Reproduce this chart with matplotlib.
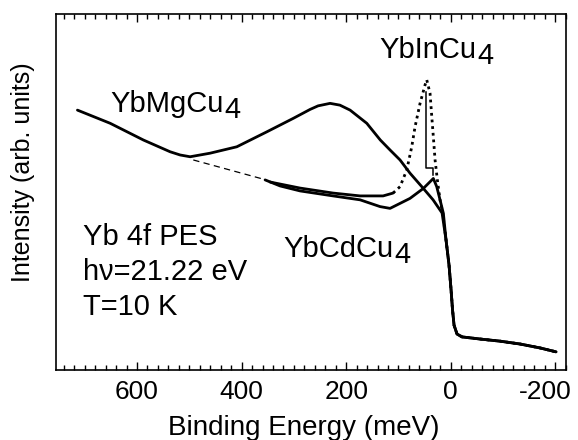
import numpy as np
import matplotlib
matplotlib.use("Agg")
import matplotlib.pyplot as plt
from matplotlib.ticker import MultipleLocator
from matplotlib.transforms import ScaledTranslation

plt.rcParams["font.family"] = ["Liberation Sans", "DejaVu Sans"]
plt.rcParams["axes.unicode_minus"] = False

# Yb 4f photoemission spectra, binding energy in meV, intensity in arb. units
# common Fermi edge / region above E_F shared by all three samples
edge_energy = [9.0, 3.3, -0.6, -3.4, -6.3, -12.0, -21.6, -56.0, -94.3, -132.5, -170.7, -201.3]
edge_intensity = [0.365, 0.295, 0.225, 0.169, 0.126, 0.101, 0.093, 0.087, 0.081, 0.073, 0.062, 0.051]

mg_energy = [714.0, 651.4, 587.8, 536.7, 517.6, 498.5, 460.3, 409.2, 351.8, 301.0, 269.0,
             253.7, 230.8, 212.0, 192.5, 160.6, 134.7, 116.1, 97.0, 78.0, 53.0, 33.8, 16.6]
mg_intensity = [0.730, 0.693, 0.646, 0.613, 0.604, 0.599, 0.609, 0.627, 0.669, 0.707, 0.732,
                0.742, 0.749, 0.744, 0.730, 0.693, 0.646, 0.618, 0.590, 0.553, 0.511, 0.478, 0.441]

cd_energy = [355.1, 326.4, 288.1, 225.0, 173.4, 135.2, 116.1, 97.0, 78.0, 52.4,
             33.3, 26.8, 20.5, 14.1]
cd_intensity = [0.534, 0.517, 0.503, 0.489, 0.478, 0.459, 0.454, 0.468, 0.482, 0.510,
                0.538, 0.515, 0.478, 0.440]

in_energy = [345.5, 288.1, 225.0, 173.4, 129.4, 110.3, 97.0, 84.1, 74.6, 68.3,
             58.7, 49.1, 45.9, 39.6, 36.3, 33.3, 30.0, 25.6, 20.5, 15.3]
in_intensity = [0.528, 0.511, 0.497, 0.489, 0.489, 0.497, 0.515, 0.562, 0.627, 0.683,
                0.749, 0.801, 0.815, 0.777, 0.712, 0.655, 0.590, 0.534, 0.478, 0.440]

# extrapolated background under YbCdCu4
bg_energy = [492.4, 358.3]
bg_intensity = [0.590, 0.536]

# peak shift marker between YbInCu4 and YbCdCu4
shift_energy = [47.8, 47.8, 33.3, 33.3]
shift_intensity = [0.782, 0.568, 0.568, 0.548]

fig = plt.figure(figsize=(5.78, 4.4), dpi=100)
ax = fig.add_axes([56 / 578, 1 - 370 / 440, 510.3 / 578, 356 / 440])

line_kw = dict(color="black", solid_joinstyle="round", solid_capstyle="round")
ax.plot(mg_energy + edge_energy, mg_intensity + edge_intensity, lw=2.0, **line_kw)
ax.plot(cd_energy + edge_energy, cd_intensity + edge_intensity, lw=2.0, **line_kw)
# YbInCu4: dense points in the flat part, sparse dots across the steep Kondo peak
ax.plot(in_energy[:6], in_intensity[:6], lw=2.0, **line_kw)
ax.plot(in_energy[5:] + edge_energy, in_intensity[5:] + edge_intensity, color="black",
        lw=2.0, linestyle=(0, (1, 1.4)))
ax.plot(bg_energy, bg_intensity, color="black", lw=0.9, linestyle=(0, (5, 3.5)))
ax.plot(shift_energy, shift_intensity, color="black", lw=1.1)

ax.set_xlim(755, -221)
ax.set_ylim(0, 1)
ax.set_yticks([])
ax.set_xticks([600, 400, 200, 0, -200])
ax.xaxis.set_minor_locator(MultipleLocator(20))
ax.tick_params(axis="x", which="both", direction="in", top=True, bottom=True,
               width=1.0, labelsize=19, pad=7)
ax.tick_params(axis="x", which="major", length=6)
ax.tick_params(axis="x", which="minor", length=3.5)
for s in ax.spines.values():
    s.set_linewidth(1.2)

# nudge the last label so it stays inside the figure
last = ax.get_xticklabels()[-1]
last.set_transform(last.get_transform() + ScaledTranslation(-7 / 72, 0, fig.dpi_scale_trans))

ax.set_xlabel("Binding Energy (meV)", fontsize=20, va="baseline")
ax.xaxis.set_label_coords(0.486, -0.183)
ax.set_ylabel("Intensity (arb. units)", fontsize=18, va="baseline", ha="center",
              rotation_mode="anchor")
ax.yaxis.set_label_coords(-0.051, 0.556)


def sample_label(x, y, name):
    t = ax.text(x, y, name, fontsize=21, va="baseline", ha="left")
    ax.annotate("4", xy=(1, 0), xycoords=t, xytext=(0.5, 0), textcoords="offset points",
                fontsize=21, va="baseline", ha="left")


sample_label(651.4, 0.726, "YbMgCu")
sample_label(136.5, 0.876, "YbInCu")
sample_label(320.0, 0.318, "YbCdCu")

ax.text(703.3, 0.351, "Yb 4f PES", fontsize=21, va="baseline")
ax.text(703.3, 0.253, "h\u03bd=21.22 eV", fontsize=21, va="baseline")
ax.text(703.3, 0.154, "T=10 K", fontsize=21, va="baseline")

fig.savefig("out.png", dpi=100)
